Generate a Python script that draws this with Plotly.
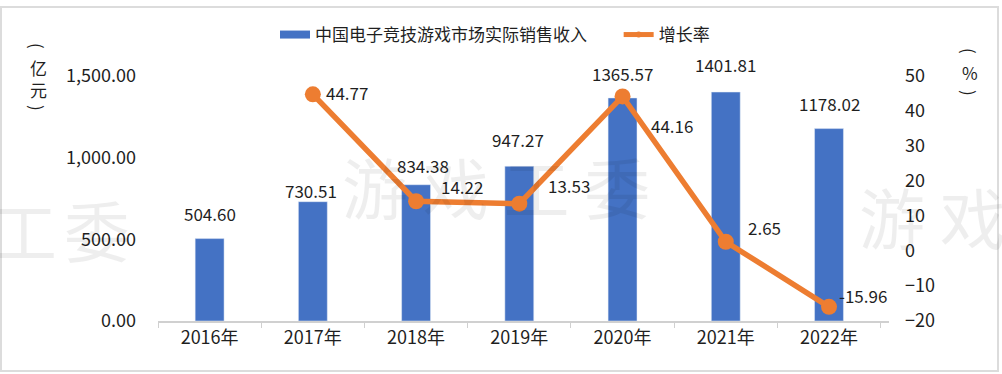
import plotly.graph_objects as go

years = ["2016年", "2017年", "2018年", "2019年", "2020年", "2021年", "2022年"]
revenue = [504.60, 730.51, 834.38, 947.27, 1365.57, 1401.81, 1178.02]
growth = [None, 44.77, 14.22, 13.53, 44.16, 2.65, -15.96]
left_ticks = [0, 500, 1000, 1500]
right_ticks = [-20, -10, 0, 10, 20, 30, 40, 50]

BLUE = "#4472C4"
ORANGE = "#ED7D31"
FONT = "Noto Sans CJK SC"
TXT = "#1f1f1f"

# plot area in pixels
L, R, T, B = 158, 889, 76, 321


def px(x):
    return (x - L) / (R - L)


def py(y):
    return (B - y) / (B - T)


NB = "\u00a0"
fig = go.Figure()
fig.add_trace(go.Bar(
    x=years, y=revenue, name="中国电子竞技游戏市场实际销售收入",
    marker=dict(color=BLUE), width=0.28, yaxis="y", showlegend=False,
))
fig.add_trace(go.Scatter(
    x=years, y=growth, name="增长率", yaxis="y2", mode="lines+markers",
    line=dict(color=ORANGE, width=5.5), marker=dict(color=ORANGE, size=16),
    showlegend=False,
))
# legend keys
fig.add_trace(go.Scatter(
    x=[None], y=[None], name="中国电子竞技游戏市场实际销售收入" + NB * 7, mode="lines",
    line=dict(color=BLUE, width=8), yaxis="y",
))
fig.add_trace(go.Scatter(
    x=[None], y=[None], name="增长率", mode="lines+markers", yaxis="y2",
    line=dict(color=ORANGE, width=5), marker=dict(color=ORANGE, size=6),
))

annotations = []
# bar labels: (xshift, yshift)
bar_off = [(0, 11), (-2, -3), (7, 5), (-1, 12), (0, 10), (0, 13), (0, 11)]
for x, v, off in zip(years, revenue, bar_off):
    annotations.append(dict(x=x, y=v, xref="x", yref="y", text=f"{v:.2f}",
                            showarrow=False, yanchor="bottom", xshift=off[0], yshift=off[1],
                            font=dict(size=17, color=TXT, family=FONT)))
# line labels: (xshift, yshift)
line_off = [None, (11, 2), (23, 15), (27, 18), (26, -29), (20, 14), (8, 11)]
for x, v, off in zip(years, growth, line_off):
    if v is None:
        continue
    annotations.append(dict(x=x, y=v, xref="x", yref="y2", text=f"{v:.2f}",
                            showarrow=False, xanchor="left", yanchor="middle",
                            xshift=off[0], yshift=off[1],
                            font=dict(size=17, color=TXT, family=FONT)))
# axis unit titles (vertical)
unit_font = dict(size=17, color=TXT, family=FONT)
for txt, xx, yy, ang in [("(", 38, 46, 90), ("亿", 38, 67, 0), ("元", 38, 89, 0), (")", 38, 108, 90),
                         ("(", 970, 51, 90), ("%", 970, 72, 0), (")", 970, 93, 90)]:
    annotations.append(dict(text=txt, x=px(xx), y=py(yy), xref="paper", yref="paper",
                            xanchor="center", yanchor="middle",
                            showarrow=False, textangle=ang, font=unit_font))
# watermark
wm = dict(showarrow=False, xref="paper", yref="paper", yanchor="middle", xanchor="center",
          font=dict(size=66, color="rgba(0,0,0,0.065)", family=FONT))
for ch, xx, yy in [("工", 24, 228), ("委", 97, 228)]:
    annotations.append(dict(text=ch, x=px(xx), y=py(yy), **wm))
annotations.append(dict(text="游 戏 工 委", x=px(496), y=py(185), **wm))
annotations.append(dict(text="游 戏", x=px(932), y=py(215), **wm))

fig.update_layout(
    width=1002, height=374,
    margin=dict(l=L, r=1002 - R, t=T, b=374 - B, autoexpand=False),
    paper_bgcolor="white", plot_bgcolor="white",
    font=dict(family=FONT, size=17, color=TXT),
    showlegend=True,
    legend=dict(orientation="h", x=px(275), xanchor="left", y=py(35), yanchor="middle",
                font=dict(size=17, color=TXT, family=FONT),
                traceorder="normal", bgcolor="rgba(0,0,0,0)"),
    xaxis=dict(type="category", showgrid=False, showline=True, linecolor="#d0d0d0",
               linewidth=1.5, ticks="outside", tickson="boundaries", ticklen=5,
               tickcolor="#d0d0d0", tickfont=dict(size=18, color=TXT), automargin=False),
    yaxis=dict(range=[0, 1500], tickvals=left_ticks, tickformat=",.2f",
               showgrid=False, zeroline=False, showline=False, automargin=False,
               tickfont=dict(size=18, color=TXT), ticklabelstandoff=21),
    yaxis2=dict(range=[-20, 50], tickvals=right_ticks, overlaying="y", side="right",
                showgrid=False, zeroline=False, showline=False, automargin=False,
                tickfont=dict(size=18, color=TXT), ticklabelstandoff=15),
    annotations=annotations,
    shapes=[dict(type="rect", xref="paper", yref="paper",
                 x0=px(1), x1=px(998), y0=py(371), y1=py(7),
                 line=dict(color="#dcdcdc", width=2), layer="below")],
)

fig.write_html("out.html", config={"displayModeBar": False},
               post_script="document.body.style.margin='0';")
